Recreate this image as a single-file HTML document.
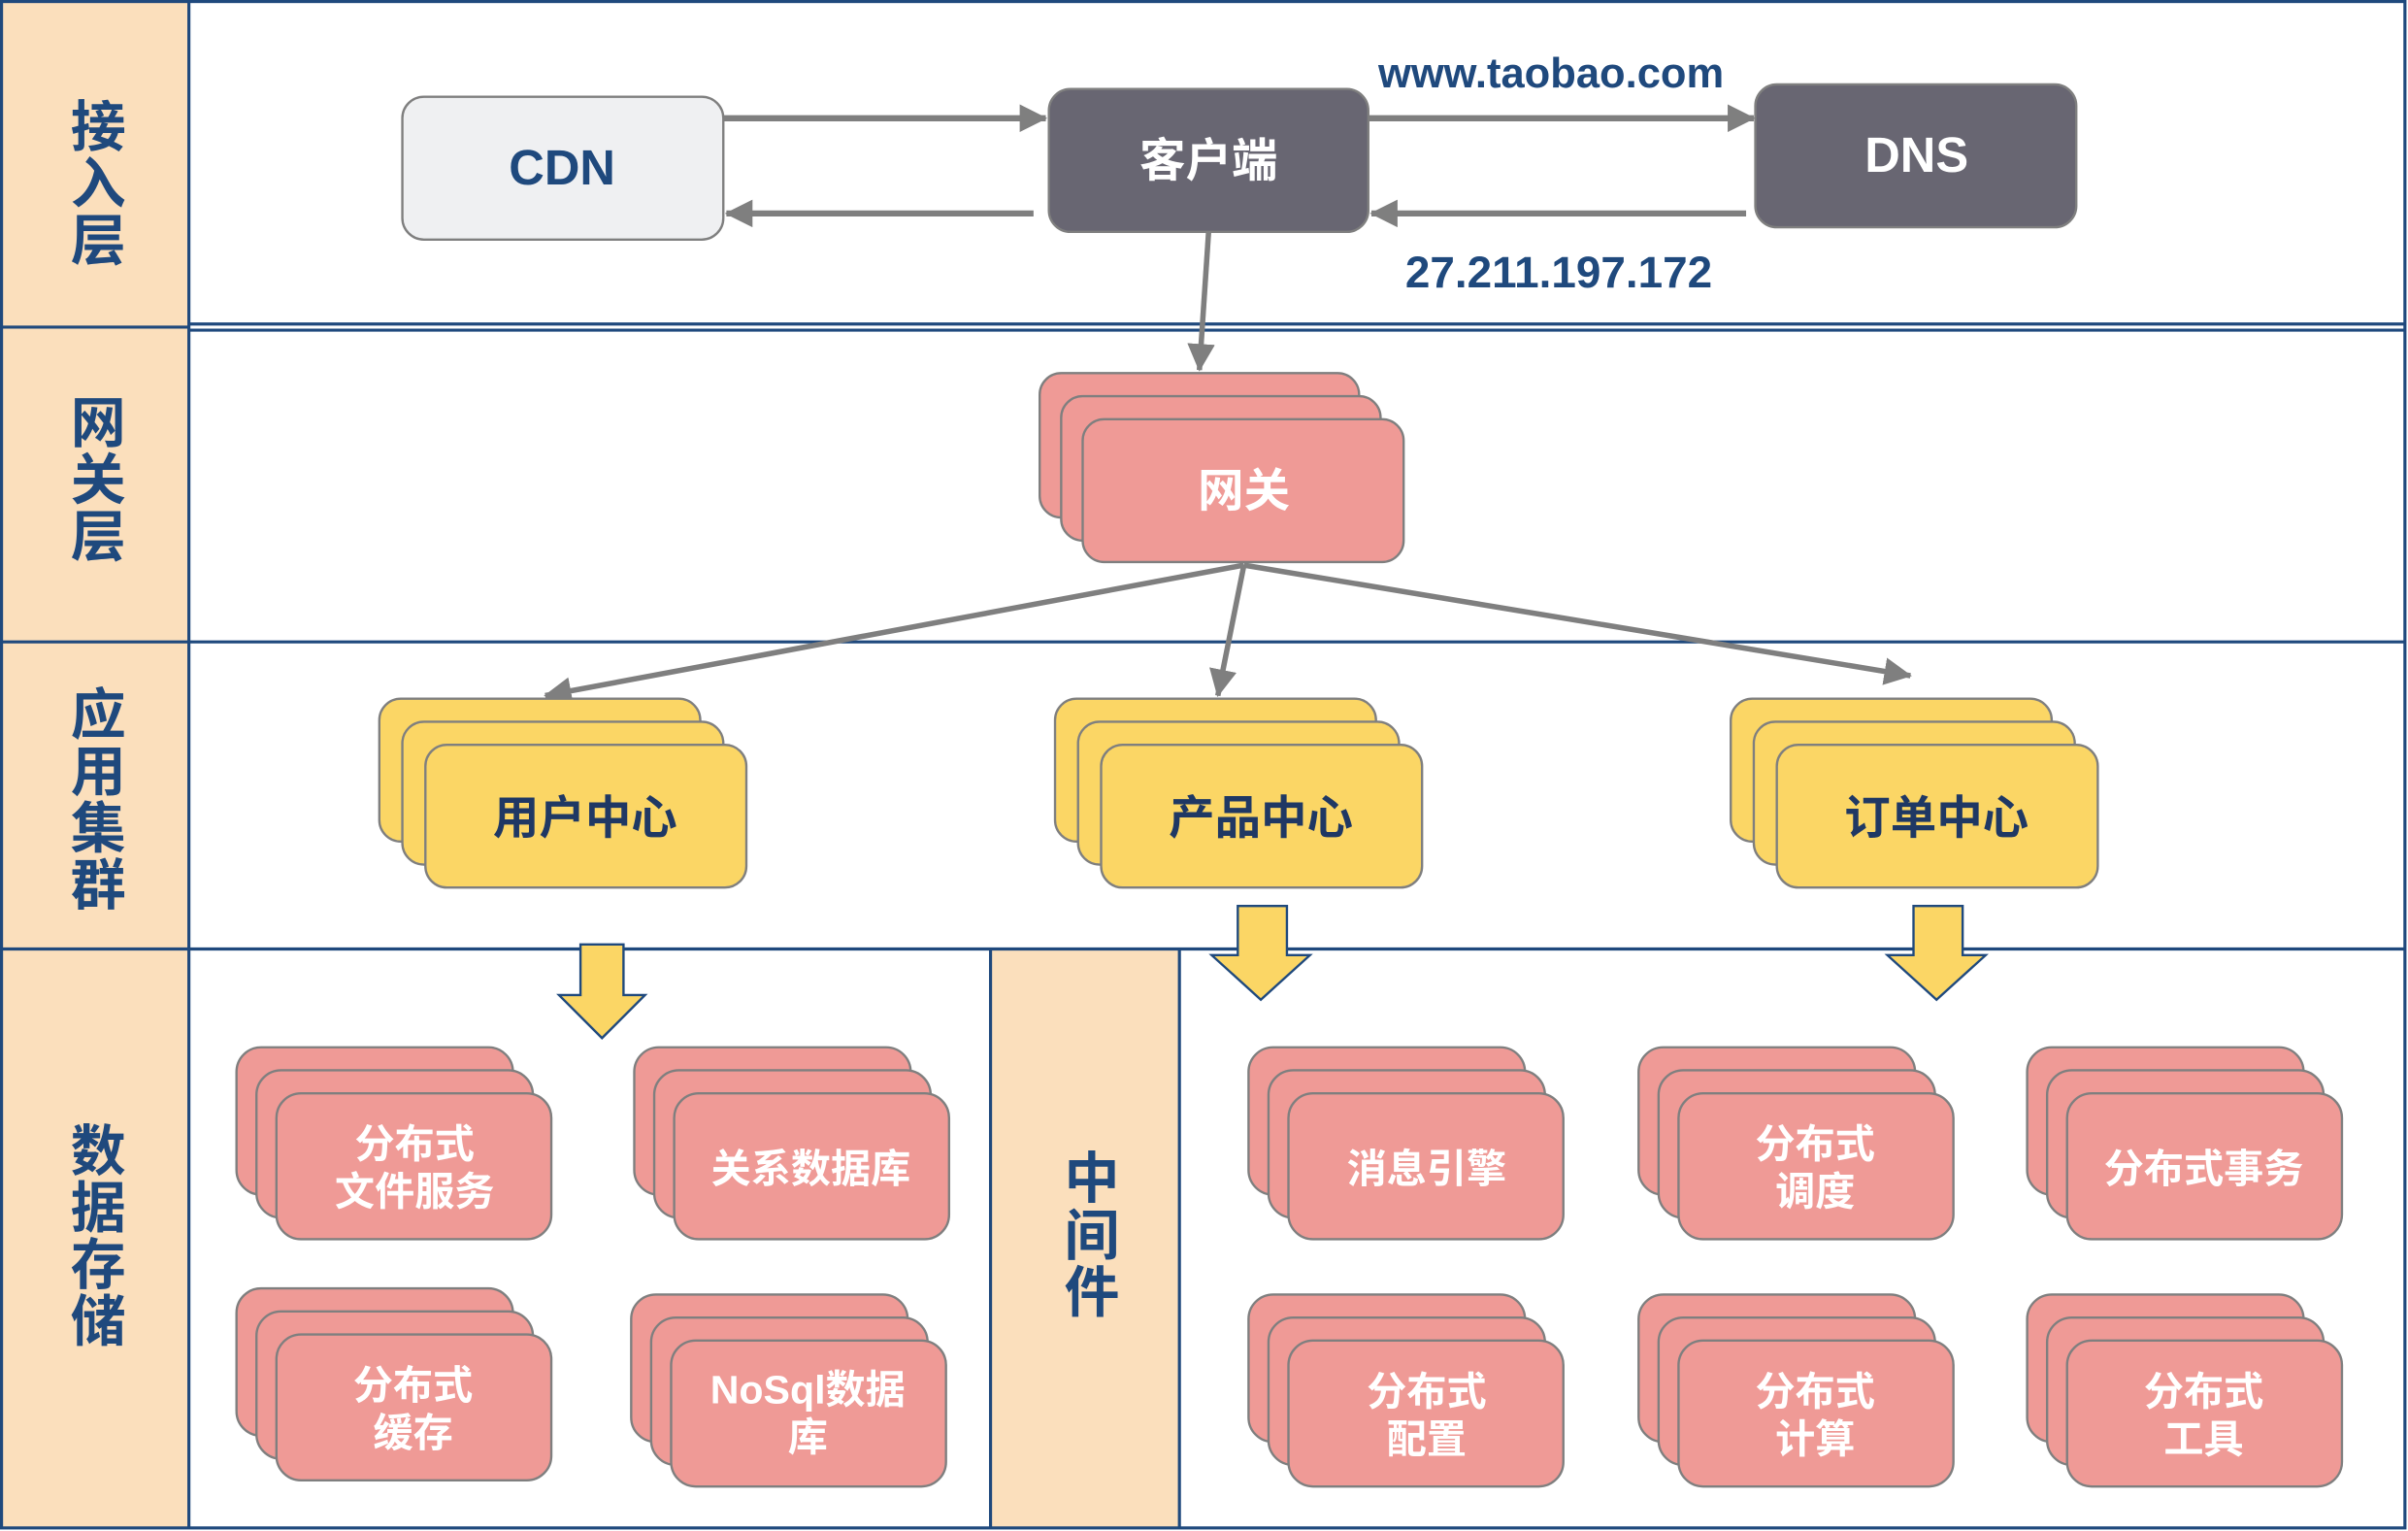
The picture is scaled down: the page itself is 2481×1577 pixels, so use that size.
<!DOCTYPE html>
<html><head><meta charset="utf-8"><style>
html,body{margin:0;padding:0;background:#fff;}
svg{display:block;}
text{font-family:"Liberation Sans","Noto Sans CJK SC",sans-serif;font-weight:bold;}
.lbl{fill:#1f497d;font-size:36px;}
.w{fill:#fff;font-size:26px;}
.s{stroke:#7f7f7f;stroke-width:1.5;}
</style></head><body>
<svg width="2481" height="1577" viewBox="0 0 1568 997" preserveAspectRatio="none">
<defs>
<marker id="ah2" markerWidth="18" markerHeight="18" refX="17" refY="9" orient="auto" markerUnits="userSpaceOnUse" viewBox="0 0 18 18">
<path d="M0,0 L18,9 L0,18 z" fill="#7f7f7f"/></marker>
</defs>
<rect x="0" y="0" width="1568" height="997" fill="#fff"/>
<rect x="1" y="1" width="122" height="994" fill="#fbdfbc"/>
<rect x="645" y="618" width="123" height="377" fill="#fbdfbc"/>
<g stroke="#1f497d" stroke-width="2" fill="none">
<rect x="1" y="1" width="1565" height="994"/>
<line x1="123" y1="1" x2="123" y2="995"/>
<line x1="1" y1="213" x2="123" y2="213"/>
<line x1="123" y1="211" x2="1566" y2="211"/>
<line x1="123" y1="215" x2="1566" y2="215"/>
<line x1="1" y1="418" x2="1566" y2="418"/>
<line x1="1" y1="618" x2="1566" y2="618"/>
<line x1="645" y1="618" x2="645" y2="995"/>
<line x1="768" y1="618" x2="768" y2="995"/>
</g>
<g class="lbl" text-anchor="middle">
<text x="64" y="95" class="lbl">接</text><text x="64" y="132" class="lbl">入</text><text x="64" y="169" class="lbl">层</text>
<text x="64" y="288" class="lbl">网</text><text x="64" y="325" class="lbl">关</text><text x="64" y="362" class="lbl">层</text>
<text x="64" y="478" class="lbl">应</text><text x="64" y="515" class="lbl">用</text><text x="64" y="552" class="lbl">集</text><text x="64" y="589" class="lbl">群</text>
<text x="64" y="762" class="lbl">数</text><text x="64" y="799" class="lbl">据</text><text x="64" y="836" class="lbl">存</text><text x="64" y="873" class="lbl">储</text>
<text x="711" y="780" class="lbl">中</text><text x="711" y="817" class="lbl">间</text><text x="711" y="854" class="lbl">件</text>
</g>
<rect x="262" y="63" width="209" height="93" rx="14" fill="#eff0f2" class="s"/>
<text x="366" y="120" text-anchor="middle" style="fill:#1f497d;font-size:32px">CDN</text>
<rect x="683" y="58" width="208" height="93" rx="14" fill="#686672" class="s"/>
<text x="787" y="115" text-anchor="middle" class="w" style="font-size:30px">客户端</text>
<rect x="1143" y="55" width="209" height="93" rx="14" fill="#686672" class="s"/>
<text x="1248" y="112" text-anchor="middle" class="w" style="font-size:32px">DNS</text>
<g stroke="#7f7f7f" stroke-width="4">
<line x1="471" y1="77" x2="681" y2="77" marker-end="url(#ah2)"/>
<line x1="673" y1="139" x2="473" y2="139" marker-end="url(#ah2)"/>
<line x1="891" y1="77" x2="1142" y2="77" marker-end="url(#ah2)"/>
<line x1="1137" y1="139" x2="893" y2="139" marker-end="url(#ah2)"/>
</g>
<text x="1010" y="57" text-anchor="middle" style="fill:#1f497d;font-size:27.5px">www.taobao.com</text>
<text x="1015" y="187" text-anchor="middle" style="fill:#1f497d;font-size:29px">27.211.197.172</text>
<g stroke="#7f7f7f" stroke-width="3.5">
<line x1="787" y1="151" x2="781" y2="241" marker-end="url(#ah2)"/>
<line x1="810" y1="368" x2="355" y2="453" marker-end="url(#ah2)"/>
<line x1="810" y1="368" x2="793" y2="453" marker-end="url(#ah2)"/>
<line x1="810" y1="368" x2="1244" y2="440" marker-end="url(#ah2)"/>
</g>
<g fill="#ef9a96" class="s">
<rect x="677" y="243" width="208" height="94" rx="14"/>
<rect x="691" y="258" width="208" height="94" rx="14"/>
<rect x="705" y="273" width="209" height="93" rx="14"/>
</g>
<text x="810" y="330" text-anchor="middle" class="w" style="font-size:30px">网关</text>
<g fill="#fbd665" class="s">
<rect x="247" y="455" width="209" height="93" rx="14"/><rect x="262" y="470" width="209" height="93" rx="14"/><rect x="277" y="485" width="209" height="93" rx="14"/>
<rect x="687" y="455" width="209" height="93" rx="14"/><rect x="702" y="470" width="209" height="93" rx="14"/><rect x="717" y="485" width="209" height="93" rx="14"/>
<rect x="1127" y="455" width="209" height="93" rx="14"/><rect x="1142" y="470" width="209" height="93" rx="14"/><rect x="1157" y="485" width="209" height="93" rx="14"/>
</g>
<g style="fill:#1f3864;font-size:30px" text-anchor="middle">
<text x="381" y="543">用户中心</text><text x="821" y="543">产品中心</text><text x="1261" y="543">订单中心</text>
</g>
<g fill="#fbd665" stroke="#1f497d" stroke-width="1.5">
<path d="M378,615 L406,615 L406,648 L420,648 L392,676 L364,648 L378,648 Z"/>
<path d="M806,590 L838,590 L838,622 L853,622 L821,651 L789,622 L806,622 Z"/>
<path d="M1246,590 L1278,590 L1278,622 L1293,622 L1261,651 L1229,622 L1246,622 Z"/>
</g>
<g fill="#ef9a96" class="s">
<g transform="translate(154,682)"><rect x="0" y="0" width="180" height="96" rx="16"/><rect x="13" y="15" width="180" height="96" rx="16"/><rect x="26" y="30" width="179" height="95" rx="16"/></g>
<g transform="translate(413,682)"><rect x="0" y="0" width="180" height="96" rx="16"/><rect x="13" y="15" width="180" height="96" rx="16"/><rect x="26" y="30" width="179" height="95" rx="16"/></g>
<g transform="translate(154,839)"><rect x="0" y="0" width="180" height="96" rx="16"/><rect x="13" y="15" width="180" height="96" rx="16"/><rect x="26" y="30" width="179" height="95" rx="16"/></g>
<g transform="translate(411,843)"><rect x="0" y="0" width="180" height="96" rx="16"/><rect x="13" y="15" width="180" height="96" rx="16"/><rect x="26" y="30" width="179" height="95" rx="16"/></g>
<g transform="translate(813,682)"><rect x="0" y="0" width="180" height="96" rx="16"/><rect x="13" y="15" width="180" height="96" rx="16"/><rect x="26" y="30" width="179" height="95" rx="16"/></g>
<g transform="translate(1067,682)"><rect x="0" y="0" width="180" height="96" rx="16"/><rect x="13" y="15" width="180" height="96" rx="16"/><rect x="26" y="30" width="179" height="95" rx="16"/></g>
<g transform="translate(1320,682)"><rect x="0" y="0" width="180" height="96" rx="16"/><rect x="13" y="15" width="180" height="96" rx="16"/><rect x="26" y="30" width="179" height="95" rx="16"/></g>
<g transform="translate(813,843)"><rect x="0" y="0" width="180" height="96" rx="16"/><rect x="13" y="15" width="180" height="96" rx="16"/><rect x="26" y="30" width="179" height="95" rx="16"/></g>
<g transform="translate(1067,843)"><rect x="0" y="0" width="180" height="96" rx="16"/><rect x="13" y="15" width="180" height="96" rx="16"/><rect x="26" y="30" width="179" height="95" rx="16"/></g>
<g transform="translate(1320,843)"><rect x="0" y="0" width="180" height="96" rx="16"/><rect x="13" y="15" width="180" height="96" rx="16"/><rect x="26" y="30" width="179" height="95" rx="16"/></g>
</g>
<g class="w" text-anchor="middle">
<text x="270" y="754">分布式</text><text x="270" y="785">文件服务</text>
<text x="528" y="770">关系数据库</text>
<text x="269" y="911">分布式</text><text x="269" y="942">缓存</text>
<text x="526" y="914">NoSql数据</text><text x="526" y="945">库</text>
<text x="929" y="770">消息引擎</text>
<text x="1182" y="754">分布式</text><text x="1182" y="785">调度</text>
<text x="1435" y="770">分布式事务</text>
<text x="929" y="915">分布式</text><text x="929" y="946">配置</text>
<text x="1182" y="915">分布式</text><text x="1182" y="946">计算</text>
<text x="1435" y="915">分布式</text><text x="1435" y="946">工具</text>
</g>
</svg>
</body></html>
